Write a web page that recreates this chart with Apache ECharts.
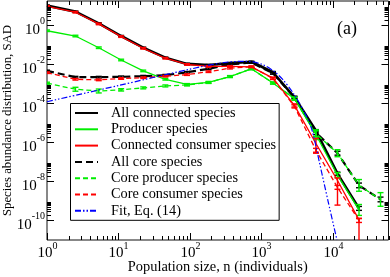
<!DOCTYPE html>
<html><head><meta charset="utf-8">
<script src="https://cdn.jsdelivr.net/npm/echarts@6/dist/echarts.min.js"></script>
<style>html,body{margin:0;padding:0;background:#fff}#c{width:390px;height:277px}</style>
</head><body><div id="c"></div>
<script>
// ---- data ----
const nBins = [1, 2.5, 5.3, 10.9, 22.2, 45.3, 91, 182, 363, 725, 1450, 2900, 5800, 11600, 23200, 46400];

const allConnected = [10.4, 5.13, 1.29, 0.288, 0.0724, 0.0224, 0.0107, 0.00933, 0.0117, 0.0138, 0.00398, 2.09e-4, 3.98e-6, 2.51e-8, 4.17e-10];
const allConnectedErrLo = [0.03,0.03,0.03,0.03,0.03,0.03,0.03,0.03,0.03,0.03,0.04,0.05,0.06,0.08,0.1];
const allConnectedErrHi = [0.03,0.03,0.03,0.03,0.03,0.03,0.03,0.03,0.03,0.03,0.04,0.05,0.06,0.08,0.1];

const producer = [0.537, 0.288, 0.0724, 0.0170, 0.00468, 0.00174, 9.55e-4, 1.20e-3, 2.40e-3, 6.03e-3, 1.12e-3, 1.78e-4, 2.51e-6, 2.14e-8, 3.47e-10];
const producerErrLo = [0.04,0.04,0.04,0.04,0.04,0.04,0.04,0.04,0.04,0.04,0.05,0.06,0.25,0.12,0.28];
const producerErrHi = [0.04,0.04,0.04,0.04,0.04,0.04,0.04,0.04,0.04,0.04,0.05,0.06,0.25,0.12,0.28];

const consumer = [9.55, 4.79, 1.20, 0.269, 0.0676, 0.0209, 0.0100, 0.00794, 0.00794, 0.00759, 0.00200, 7.94e-5, 8.91e-7, 1.12e-8, 1.07e-10];
const consumerErrLo = [0.04,0.04,0.04,0.04,0.04,0.04,0.04,0.04,0.04,0.04,0.05,0.08,0.5,1.26,3];
const consumerErrHi = [0.04,0.04,0.04,0.04,0.04,0.04,0.04,0.04,0.04,0.04,0.05,0.08,0.27,0.13,0.08];

const allCore = [4.68e-3, 2.24e-3, 2.24e-3, 2.34e-3, 2.51e-3, 2.82e-3, 3.98e-3, 6.03e-3, 0.0100, 0.0126, 3.55e-3, 2.00e-4, 3.16e-6, 2.82e-7, 6.31e-9, 1.20e-9];
const allCoreErr = [0.04,0.04,0.04,0.04,0.04,0.04,0.04,0.04,0.04,0.04,0.05,0.06,0.1,0.1,0.12,0.12];

const coreProducer = [1.10e-3, 5.37e-4, 4.37e-4, 5.01e-4, 6.31e-4, 7.94e-4, 8.91e-4, 1.20e-3, 2.40e-3, 6.03e-3, 1.12e-3, 1.78e-4, 2.82e-6, 2.82e-7, 6.31e-9, 1.20e-9];
const coreProducerErr = [0.05,0.1,0.1,0.06,0.05,0.05,0.05,0.05,0.05,0.05,0.05,0.08,0.15,0.18,0.3,0.35];

const coreConsumer = [3.80e-3, 1.74e-3, 1.62e-3, 1.91e-3, 2.09e-3, 2.51e-3, 3.02e-3, 4.27e-3, 6.46e-3, 7.59e-3, 1.91e-3, 7.08e-5, 3.98e-7, 5.01e-9, 1.00e-10];
const coreConsumerErr = [0.04,0.04,0.04,0.04,0.04,0.04,0.04,0.04,0.04,0.04,0.05,0.08,0.1,0.1,0.1];

const fitN = [1, 10, 100, 300, 600, 1000, 1500, 2000, 2800, 4000, 5100, 6600, 8600, 11400];
const fitP = [1.23e-4, 8.32e-4, 5.75e-3, 0.0126, 0.0145, 0.0105, 4.47e-3, 1.66e-3, 3.31e-4, 3.55e-5, 4.37e-6, 7.08e-8, 9.12e-10, 1e-11];

const names = ['All connected species','Producer species','Connected consumer species','All core species','Core producer species','Core consumer species','Fit, Eq. (14)'];

// tick labels (exponents of 10)
const xLabelExps = [0, 1, 2, 3, 4];
const yLabelExps = [0, -2, -4, -6, -8, -10];
const xMin = 1, xMax = 6e4, yMin = 1e-11, yMax = 18;

// ---- build ----
const FONT = '"Liberation Serif", "Times New Roman", serif';
const GREEN = '#00ee00', RED = '#ff0000', BLUE = '#0000ff', BLACK = '#000000';

const mctx = document.createElement('canvas').getContext('2d');
function tw(s, size){ mctx.font = size + 'px ' + FONT; return mctx.measureText(s).width; }

function lineSeries(name, xs, ys, color, width, type, z){
  return {type:'line', name, z, data: ys.map((y,i)=>[xs[i], y]), symbol:'none',
    lineStyle:{color, width, type}, itemStyle:{color}, animation:false, silent:true};
}
function errSeries(xs, ys, lo, hi, color, z){
  return {type:'custom', coordinateSystem:'cartesian2d', z, silent:true, clip:true, animation:false,
    data: ys.map((y,i)=>[xs[i], y, y/Math.pow(10, lo[i]), y*Math.pow(10, hi[i])]),
    encode:{x:0, y:1},
    renderItem(params, api){
      const a = api.coord([api.value(0), api.value(2)]);
      const b = api.coord([api.value(0), api.value(3)]);
      const hw = 3;
      const st = {stroke:color, lineWidth:1.4};
      return {type:'group', children:[
        {type:'line', shape:{x1:a[0],y1:a[1],x2:b[0],y2:b[1]}, style:st},
        {type:'line', shape:{x1:a[0]-hw,y1:a[1],x2:a[0]+hw,y2:a[1]}, style:st},
        {type:'line', shape:{x1:b[0]-hw,y1:b[1],x2:b[0]+hw,y2:b[1]}, style:st}
      ]};
    }};
}

// tick data: [x, y, kind(0=x,1=y), major, labelExp(-99 none)]
const tickData = [];
for (let e = 0; e <= 4; e++) {
  const v = Math.pow(10, e);
  tickData.push([v, 1, 0, 1, xLabelExps.includes(e) ? e : -99]);
  for (let k = 2; k <= 9; k++) { const m = k * v; if (m <= xMax) tickData.push([m, 1, 0, 0, -99]); }
}
for (let e = 0; e >= -10; e -= 2) {
  const v = Math.pow(10, e);
  tickData.push([1, v, 1, 1, yLabelExps.includes(e) ? e : -99]);
  for (let k = 2; k <= 9; k++) { const m = k * v; if (m <= yMax && m >= yMin) tickData.push([1, m, 1, 0, -99]); }
}

const tickSeries = {type:'custom', coordinateSystem:'cartesian2d', z:50, silent:true, clip:false, animation:false,
  data: tickData, encode:{x:0, y:1},
  renderItem(params, api){
    const cs = params.coordSys;
    const kind = api.value(2), major = api.value(3), lab = api.value(4);
    const L = major ? 7 : 4;
    const st = {stroke:'#000', lineWidth:1};
    const ch = [];
    if (kind === 0) {
      const px = Math.round(api.coord([api.value(0), 1])[0]) + 0.5;
      const yb = cs.y + cs.height, yt = cs.y;
      ch.push({type:'line', shape:{x1:px,y1:yb,x2:px,y2:yb-L}, style:st});
      ch.push({type:'line', shape:{x1:px,y1:yt,x2:px,y2:yt+L}, style:st});
      if (lab !== -99) {
        const sup = String(lab);
        const wb = tw('10', 15), ws = tw(sup, 10);
        const x0 = px - (wb + ws) / 2 + wb;
        ch.push({type:'text', style:{text:'10', x:x0, y:yb+13, align:'right', verticalAlign:'middle', fontSize:15, fontFamily:FONT, fill:'#000'}});
        ch.push({type:'text', style:{text:sup, x:x0, y:yb+6.5, align:'left', verticalAlign:'middle', fontSize:10, fontFamily:FONT, fill:'#000'}});
      }
    } else {
      const py = Math.round(api.coord([1, api.value(1)])[1]) + 0.5;
      const xl = cs.x, xr = cs.x + cs.width;
      ch.push({type:'line', shape:{x1:xl,y1:py,x2:xl+L,y2:py}, style:st});
      ch.push({type:'line', shape:{x1:xr,y1:py,x2:xr-L,y2:py}, style:st});
      if (lab !== -99) {
        const sup = String(lab);
        const ws = tw(sup, 10);
        const x0 = xl - 2 - ws;
        ch.push({type:'text', style:{text:'10', x:x0, y:py+4.5, align:'right', verticalAlign:'middle', fontSize:15, fontFamily:FONT, fill:'#000'}});
        ch.push({type:'text', style:{text:sup, x:x0, y:py-4, align:'left', verticalAlign:'middle', fontSize:10, fontFamily:FONT, fill:'#000'}});
      }
    }
    return {type:'group', children:ch};
  }};

const chart = echarts.init(document.getElementById('c'), null, {renderer:'canvas'});
chart.setOption({
  animation:false,
  backgroundColor:'#fff',
  grid:{left:47, right:1.5, top:1, bottom:37, show:true, borderColor:'#111', borderWidth:1, backgroundColor:'transparent', outerBoundsMode:'none'},
  xAxis:{type:'log', logBase:10, min:xMin, max:xMax,
    axisLine:{show:false}, axisTick:{show:false}, axisLabel:{show:false}, splitLine:{show:false}, minorTick:{show:false},
    name:'Population size, n (individuals)', nameLocation:'middle', nameGap:20,
    nameTextStyle:{fontFamily:FONT, fontSize:14.4, color:'#000', verticalAlign:'top'}},
  yAxis:{type:'log', logBase:10, min:yMin, max:yMax,
    axisLine:{show:false}, axisTick:{show:false}, axisLabel:{show:false}, splitLine:{show:false}, minorTick:{show:false},
    name:'Species abundance distribution, SAD', nameLocation:'middle', nameGap:33,
    nameTextStyle:{fontFamily:FONT, fontSize:12.8, color:'#000'}},
  legend:{orient:'vertical', left:70.5, top:103.5, itemWidth:23, itemHeight:10, itemGap:2.3,
    padding:[2.5,3,2.5,3.5], borderColor:'#000', borderWidth:1, backgroundColor:'#fff',
    itemStyle:{opacity:0, borderWidth:0},
    textStyle:{fontFamily:FONT, fontSize:14.3, color:'#000', lineHeight:14, padding:[0,0,0,8]},
    data:names, selectedMode:false, z:60},
  graphic:[{type:'text', left:337, top:20, z:70, style:{text:'(a)', fontFamily:FONT, fontSize:18, fill:'#000'}}],
  series:[
    lineSeries(names[0], nBins, allConnected, BLACK, 2.6, 'solid', 10),
    errSeries(nBins, allConnected, allConnectedErrLo, allConnectedErrHi, BLACK, 10),
    lineSeries(names[1], nBins, producer, GREEN, 1.3, 'solid', 12),
    errSeries(nBins, producer, producerErrLo, producerErrHi, GREEN, 12),
    lineSeries(names[2], nBins, consumer, RED, 1.3, 'solid', 13),
    errSeries(nBins, consumer, consumerErrLo, consumerErrHi, RED, 13),
    lineSeries(names[3], nBins, allCore, BLACK, 2.2, [7,4], 11),
    errSeries(nBins, allCore, allCoreErr, allCoreErr, BLACK, 11),
    lineSeries(names[4], nBins, coreProducer, GREEN, 1.3, [5,3], 14),
    errSeries(nBins, coreProducer, coreProducerErr, coreProducerErr, GREEN, 14),
    lineSeries(names[5], nBins, coreConsumer, RED, 1.3, [5,3], 15),
    errSeries(nBins, coreConsumer, coreConsumerErr, coreConsumerErr, RED, 15),
    Object.assign(lineSeries(names[6], fitN, fitP, BLUE, 1.2, [6,2,1.5,2,1.5,2], 16), {smooth:0.3}),
    tickSeries
  ]
});
</script></body></html>
